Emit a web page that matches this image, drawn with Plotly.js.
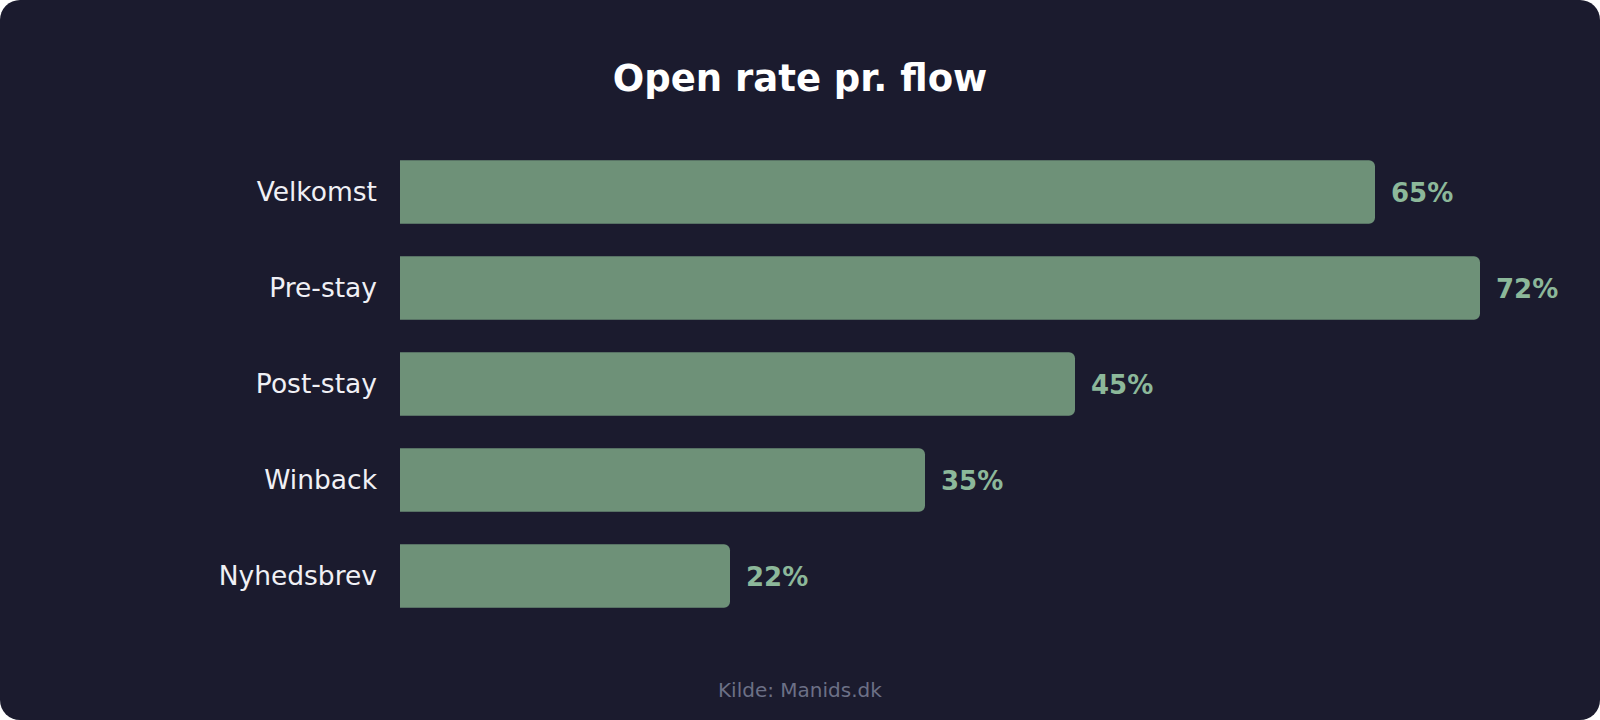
<!DOCTYPE html>
<html>
<head>
<meta charset="utf-8">
<script src="https://cdn.plot.ly/plotly-3.0.1.min.js"></script>
<style>
  html, body { margin: 0; padding: 0; background: #ffffff; }
  #card {
    width: 1600px; height: 720px;
    background: #1b1b2e;
    border-radius: 20px;
    overflow: hidden;
  }
</style>
</head>
<body>
<div id="card"><div id="plot"></div></div>
<script>
const flows = ["Velkomst", "Pre-stay", "Post-stay", "Winback", "Nyhedsbrev"];
const openRates = [65, 72, 45, 35, 22];
const rateLabels = ["65%", "72%", "45%", "35%", "22%"];

const bars = {
    type: "bar",
    orientation: "h",
    x: openRates,
    y: flows,
    width: 0.66,
    marker: { color: "#6e9178", cornerradius: 6 },
    hoverinfo: "skip"
};

// value labels to the right of each bar
const valueNotes = flows.map((f, i) => ({
    x: openRates[i],
    y: f,
    xref: "x",
    yref: "y",
    text: rateLabels[i],
    showarrow: false,
    xanchor: "left",
    xshift: 14,
    yshift: -1,
    font: { family: "DejaVu Sans", size: 26, color: "#8cb89a", weight: "bold" }
}));

Plotly.newPlot("plot", [bars], {
    width: 1600,
    height: 720,
    paper_bgcolor: "rgba(0,0,0,0)",
    plot_bgcolor: "rgba(0,0,0,0)",
    margin: { l: 400, r: 40, t: 144, b: 96 },
    font: { family: "DejaVu Sans", color: "#f0f0f5" },
    title: {
        text: "<b>Open rate pr. flow</b>",
        font: { family: "DejaVu Sans", size: 37, color: "#ffffff" },
        x: 0.5,
        xref: "container",
        y: 1 - 78 / 720,
        yref: "container",
        yanchor: "middle"
    },
    showlegend: false,
    xaxis: {
        range: [0, 1160 / 15],
        visible: false,
        fixedrange: true
    },
    yaxis: {
        autorange: "reversed",
        showgrid: false,
        zeroline: false,
        showline: false,
        ticks: "",
        ticklabelstandoff: 22,
        tickfont: { family: "DejaVu Sans", size: 26.5, color: "#f0f0f5" },
        fixedrange: true
    },
    annotations: valueNotes.concat([{
        text: "Kilde: Manids.dk",
        xref: "paper",
        yref: "paper",
        x: (800 - 400) / 1160,
        y: (624 - 690) / 480,
        xanchor: "center",
        yanchor: "middle",
        showarrow: false,
        font: { family: "DejaVu Sans", size: 20, color: "#6c7086" }
    }])
}, { displayModeBar: false, staticPlot: true });
</script>
</body>
</html>
